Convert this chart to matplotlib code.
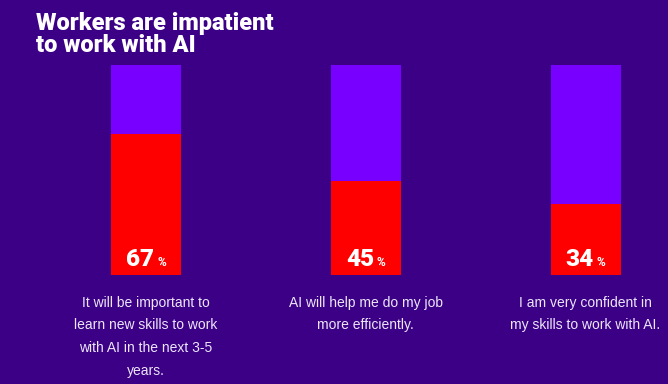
import matplotlib.pyplot as plt

title = "Workers are impatient\nto work with AI"
values = [67, 45, 34]
captions = [
    "It will be important to\nlearn new skills to work\nwith AI in the next 3-5\nyears.",
    "AI will help me do my job\nmore efficiently.",
    "I am very confident in\nmy skills to work with AI.",
]

bg = "#3c0087"
purple = "#7800ff"
red = "#ff0000"

fig = plt.figure(figsize=(6.68, 3.84), dpi=100)
fig.patch.set_facecolor(bg)

# axes placed so bars sit where they do in the reference
ax = fig.add_axes([0, 1 - 275 / 384, 1, 210 / 384])
ax.set_facecolor(bg)
step = 219.75
ax.set_xlim(-146 / step, (668 - 146) / step)
ax.set_ylim(0, 100)
ax.axis("off")

x = list(range(len(values)))
w = 70 / step
ax.bar(x, [100] * len(values), width=w, color=purple)
ax.bar(x, values, width=w, color=red)

for i, v in enumerate(values):
    ax.annotate(str(v), (i, 0), xytext=(6, 6.5), textcoords="offset points",
                ha="right", va="baseline", color="white", fontsize=17.5,
                fontweight=900, family="Roboto")
    ax.annotate("%", (i, 0), xytext=(8, 6.5), textcoords="offset points",
                ha="left", va="baseline", color="white", fontsize=8.5,
                fontweight=900, family="Roboto")
    ax.annotate(captions[i], (i, 0), xytext=(0, -15), textcoords="offset points",
                ha="center", va="top", color="#ece6f7", fontsize=10,
                family="Liberation Sans", linespacing=1.78)

# baseline of the last title line
fig.text(36 / 668, 1 - 52 / 384, title, ha="left", va="baseline", color="white",
         fontsize=17, fontweight=900, family="Roboto", linespacing=0.93)

fig.savefig("out.png", dpi=100, facecolor=bg)
